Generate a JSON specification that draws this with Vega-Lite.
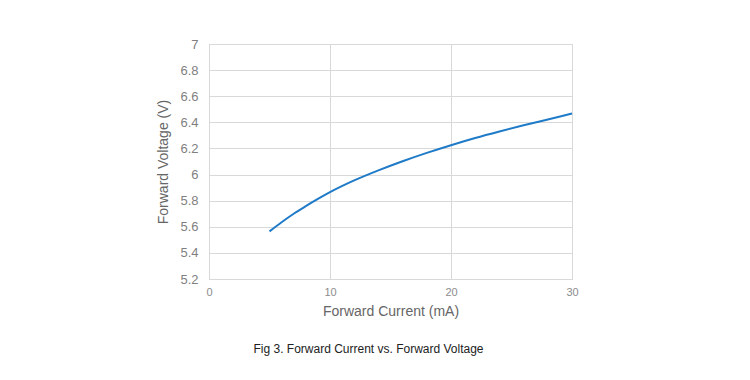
{
  "$schema": "https://vega.github.io/schema/vega-lite/v6.json",
  "width": 363,
  "height": 235,
  "autosize": {"type": "none"},
  "padding": {"left": 209, "top": 44, "right": 178, "bottom": 101},
  "background": "white",
  "data": {"values": [
    {"current": 5, "voltage": 5.565},
    {"current": 6, "voltage": 5.635},
    {"current": 7, "voltage": 5.70},
    {"current": 8, "voltage": 5.758},
    {"current": 9, "voltage": 5.813},
    {"current": 10, "voltage": 5.865},
    {"current": 12, "voltage": 5.955},
    {"current": 14, "voltage": 6.032},
    {"current": 16, "voltage": 6.102},
    {"current": 18, "voltage": 6.166},
    {"current": 20, "voltage": 6.225},
    {"current": 22, "voltage": 6.28},
    {"current": 24, "voltage": 6.33},
    {"current": 26, "voltage": 6.377},
    {"current": 28, "voltage": 6.422},
    {"current": 30, "voltage": 6.467}
  ]},
  "title": {
    "text": "Fig 3. Forward Current vs. Forward Voltage",
    "orient": "bottom",
    "anchor": "middle",
    "offset": 26,
    "dx": -22,
    "font": "Liberation Sans",
    "fontSize": 12,
    "fontWeight": "normal",
    "color": "#222222"
  },
  "mark": {"type": "line", "color": "#1f7bc8", "strokeWidth": 2, "interpolate": "monotone"},
  "encoding": {
    "x": {
      "field": "current", "type": "quantitative",
      "scale": {"domain": [0, 30], "nice": false},
      "axis": {
        "title": "Forward Current (mA)",
        "values": [0, 10, 20, 30],
        "labelFlush": false,
        "grid": true, "gridColor": "#d9d9d9",
        "domainColor": "#d9d9d9", "ticks": false,
        "labelFont": "Liberation Sans", "labelFontSize": 11, "labelColor": "#8c8c8c",
        "labelPadding": 7,
        "titleFont": "Liberation Sans", "titleFontSize": 14, "titleFontWeight": "normal",
        "titleColor": "#666666", "titlePadding": 7
      }
    },
    "y": {
      "field": "voltage", "type": "quantitative",
      "scale": {"domain": [5.2, 7], "nice": false, "zero": false},
      "axis": {
        "title": "Forward Voltage (V)",
        "values": [5.2, 5.4, 5.6, 5.8, 6, 6.2, 6.4, 6.6, 6.8, 7],
        "format": "~g",
        "grid": true, "gridColor": "#d9d9d9",
        "domainColor": "#d9d9d9", "ticks": false,
        "labelFont": "Liberation Sans", "labelFontSize": 13, "labelColor": "#7f7f7f",
        "labelPadding": 11,
        "titleFont": "Liberation Sans", "titleFontSize": 14, "titleFontWeight": "normal",
        "titleColor": "#666666", "titlePadding": 9
      }
    }
  },
  "config": {"view": {"stroke": "#d9d9d9"}}
}
